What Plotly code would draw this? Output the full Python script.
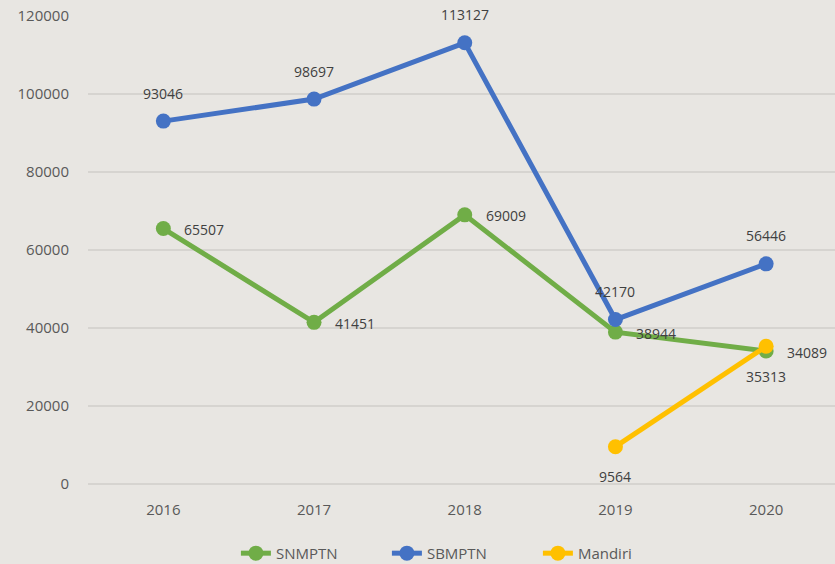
import plotly.graph_objects as go

years = ["2016", "2017", "2018", "2019", "2020"]
snmptn = [65507, 41451, 69009, 38944, 34089]
sbmptn = [93046, 98697, 113127, 42170, 56446]
mandiri = [None, None, None, 9564, 35313]
y_ticks = [0, 20000, 40000, 60000, 80000, 100000, 120000]

GREEN = "#70AD47"
BLUE = "#4472C4"
YELLOW = "#FFC000"
BG = "#E8E6E2"
FONT = "Open Sans"
LABEL = "#404040"

fig = go.Figure()

def add(name, vals, color):
    fig.add_trace(go.Scatter(
        x=years, y=vals, name=name, mode="lines+markers",
        line=dict(color=color, width=5),
        marker=dict(color=color, size=15),
        connectgaps=False,
        cliponaxis=False,
    ))

add("SNMPTN", snmptn, GREEN)
add("SBMPTN", sbmptn, BLUE)
add("Mandiri", mandiri, YELLOW)

def labels(vals, xanchor, xshift, yshift):
    # category axis: position annotations by category index
    for i, v in enumerate(vals):
        if v is None:
            continue
        fig.add_annotation(x=i, y=v, xref="x", yref="y", text=str(v), showarrow=False,
                           xanchor=xanchor, yanchor="middle",
                           xshift=xshift, yshift=yshift,
                           font=dict(family=FONT, size=14, color=LABEL))

labels(snmptn, "left", 19, -1)
labels(sbmptn, "center", 0, 28)
labels(mandiri, "center", 0, -30)

fig.update_layout(
    width=835, height=564,
    margin=dict(l=88, r=0, t=16, b=80, autoexpand=False),
    paper_bgcolor=BG, plot_bgcolor=BG,
    font=dict(family=FONT, size=15, color="#595959"),
    showlegend=True,
    legend=dict(orientation="h", x=0.198, xanchor="left", xref="paper",
                y=0.048, yanchor="top", yref="container",
                font=dict(family=FONT, size=15, color="#595959"), bgcolor="rgba(0,0,0,0)",
                entrywidth=106),
    xaxis=dict(type="category", range=[-0.5, 4.457], showgrid=False, showline=False,
               ticks="", tickfont=dict(size=15, color="#595959"), ticklabelstandoff=15),
    yaxis=dict(range=[0, 120000], tickvals=y_ticks, ticktext=[str(v) for v in y_ticks],
               showgrid=True, gridcolor="#D6D4D0", gridwidth=1.5,
               zeroline=True, zerolinecolor="#D6D4D0", zerolinewidth=1.5,
               showline=False, ticks="", tickfont=dict(size=15, color="#595959"),
               ticklabelstandoff=18),
)

fig.write_html("out.html", config={"displayModeBar": False},
               post_script="document.body.style.margin='0';document.body.style.overflow='hidden';")
